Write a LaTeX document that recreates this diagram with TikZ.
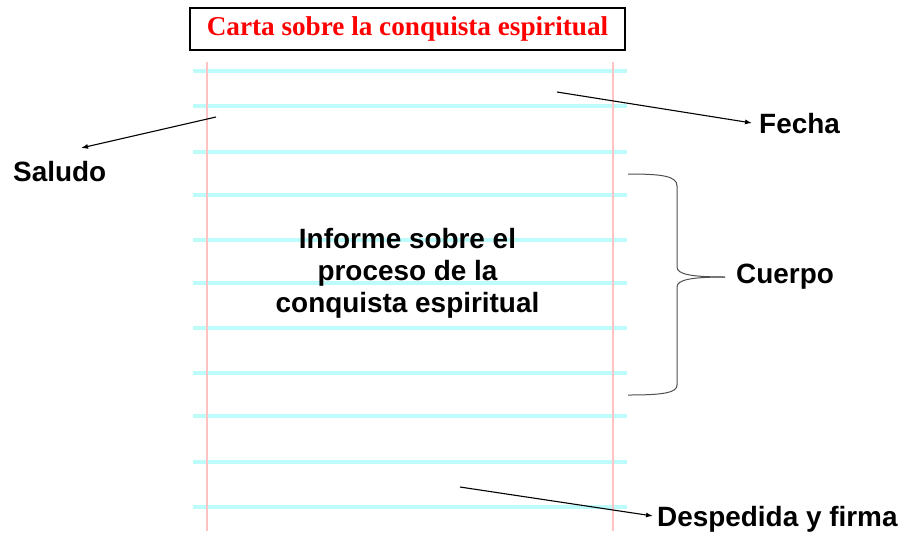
\documentclass[tikz,border=0pt]{standalone}
\usepackage{fontspec}
\setmainfont{Liberation Serif}
\setsansfont{Liberation Sans}
\usetikzlibrary{arrows.meta}
\definecolor{ruleblue}{RGB}{190,252,252}
\definecolor{rulered}{RGB}{255,195,195}
\definecolor{bracegray}{RGB}{80,80,80}
\tikzset{
  x=1pt, y=-1pt,
  hline/.style={ruleblue, line width=3.2pt},
  vline/.style={rulered, line width=2pt},
  lab/.style={font=\sffamily\bfseries\fontsize{27.9}{32}\selectfont, inner sep=0pt, anchor=west},
  pointer/.style={black, line width=1.1pt, -{Latex[length=7pt,width=5pt]}},
  titlebox/.style={draw=black, line width=1.2pt, minimum width=435pt, minimum height=42pt, inner sep=0pt,
    text=red, font=\rmfamily\bfseries\fontsize{27.2}{30}\selectfont},
  bodytext/.style={font=\sffamily\bfseries\fontsize{27.9}{32}\selectfont, align=center, inner sep=0pt},
  bracestyle/.style={bracegray, line width=1pt}
}
\begin{document}
\begin{tikzpicture}
\useasboundingbox (0,0) rectangle (901,536);
% ruled lines
\foreach \yy in {71,106,152,195,240,283,328,373,416,462,507}
  \draw[hline] (193,\yy) -- (627,\yy);
\draw[vline] (207,62) -- (207,531);
\draw[vline] (613,62) -- (613,531);
% title
\node[titlebox] (title) at (407.5,29) {Carta sobre la conquista espiritual};
% body text
\node[bodytext] (body) at (407.5,273) {Informe sobre el\\proceso de la\\conquista espiritual};
% labels
\node[lab] (saludo) at (13,172) {Saludo};
\node[lab] (fecha) at (759,124) {Fecha};
\node[lab] (cuerpo) at (736,277) {Cuerpo};
\node[lab] (despedida) at (657,519) {Despedida y firma};
% arrows
\coordinate (s0) at (216,117);
\coordinate (s1) at (81,148);
\coordinate (f0) at (557,92);
\coordinate (f1) at (752,123);
\coordinate (d0) at (460,487);
\coordinate (d1) at (653,516);
\draw[pointer] (s0) -- (s1);
\draw[pointer] (f0) -- (f1);
\draw[pointer] (d0) -- (d1);
% brace
\coordinate (btop) at (628,174);
\coordinate (bbot) at (628,395);
\coordinate (btip) at (725,277);
\draw[bracestyle] (btop) .. controls (662,174) and (677,176) .. (677,186)
  -- (677,267) .. controls (677,274) and (690,277) .. (btip);
\draw[bracestyle] (btip) .. controls (690,277) and (677,280) .. (677,287)
  -- (677,385) .. controls (677,393) and (662,395) .. (bbot);
\end{tikzpicture}
\end{document}
